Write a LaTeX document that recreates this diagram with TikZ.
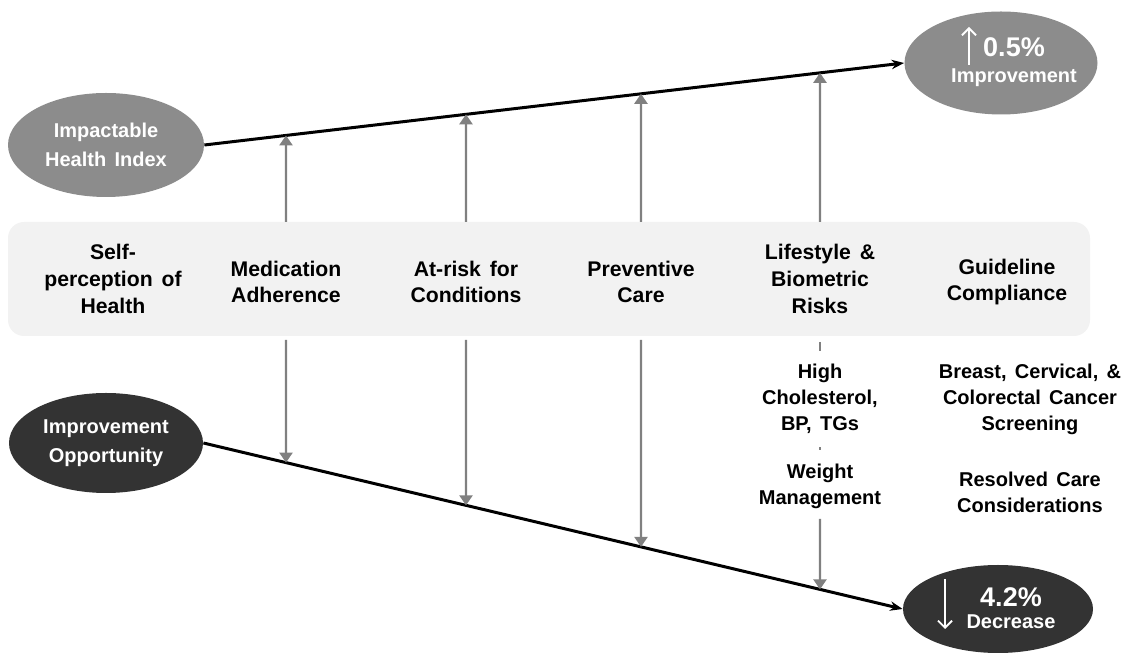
\documentclass[tikz,border=0pt]{standalone}
\usepackage{fontspec}
\setmainfont{Liberation Sans}[WordSpace=1.5]
\usetikzlibrary{positioning,arrows.meta,calc,shapes.geometric}

\definecolor{ovlight}{HTML}{8C8C8C}
\definecolor{ovdark}{HTML}{333333}
\definecolor{bandgray}{HTML}{F2F2F2}
\definecolor{arrgray}{HTML}{808080}

\tikzset{
  >={Stealth[length=2.2mm]},
  band/.style={fill=bandgray,rounded corners=8pt},
  ovl/.style={ellipse,fill=ovlight,text=white,align=center,inner sep=0pt,
    font=\bfseries\fontsize{10}{14.5}\selectfont},
  ovd/.style={ovl,fill=ovdark},
  pcttxt/.style={text=white,align=center,inner sep=0pt,
    font=\bfseries\fontsize{10}{12}\selectfont},
  col/.style={align=center,inner sep=1pt,
    font=\bfseries\fontsize{10.6}{13.3}\selectfont},
  sub/.style={align=center,inner sep=1pt,
    font=\bfseries\fontsize{10}{13}\selectfont},
  trend/.style={->,line width=1.5pt,black},
  gup/.style={-{Triangle[length=5pt,width=6.5pt]},line width=1.2pt,arrgray},
  gline/.style={line width=1.2pt,arrgray},
  dirarr/.style={-{Straight Barb[length=3.5pt,width=7pt]},line width=0.9pt,white},
}

\begin{document}
\begin{tikzpicture}[x=0.5pt,y=-0.5pt]
  \useasboundingbox (0,0) rectangle (1131,656);

  % the grey band with the six measures
  \path[band] (8,222) rectangle (1090,336);
  \coordinate (btop) at (0,222);
  \coordinate (bbot) at (0,336);

  \node[col] (c1) at (113,279) {Self-\\perception of\\Health};
  \node[col] (c2) at (286,282) {Medication\\Adherence};
  \node[col] (c3) at (466,282) {At-risk for\\Conditions};
  \node[col] (c4) at (641,282) {Preventive\\Care};
  \node[col] (c5) at (820,279) {Lifestyle \&\\Biometric\\Risks};
  \node[col] (c6) at (1007,282) {Guideline\\Compliance};

  % ovals
  \node[ovl,minimum width=98pt,minimum height=52pt] (hi) at (106,145) {Impactable\\Health Index};
  \node[ovl,minimum width=96.5pt,minimum height=51.5pt] (up) at (1001,63) {};
  \node[ovd,minimum width=97pt,minimum height=50pt] (io) at (106,443) {Improvement\\Opportunity};
  \node[ovd,minimum width=95pt,minimum height=44pt] (dn) at (998,609) {};

  \node[pcttxt] (uptxt) at (1014,62)
    {\fontsize{13.5}{15}\selectfont 0.5\%\\[1pt]Improvement};
  \node[pcttxt] (dntxt) at (1011,608)
    {\fontsize{13.5}{15}\selectfont 4.2\%\\[-1pt]Decrease};
  \draw[dirarr] ([shift={(-32,2)}]up.center) -- ++(0,-38);
  \draw[dirarr] ([shift={(-53,-30)}]dn.center) -- ++(0,50);

  % trend lines
  \draw[trend] (hi.east) -- (up.west);
  \draw[trend] (io.east) -- (dn.west);

  % details under the band
  \node[sub] (hc) at (820,399) {High\\Cholesterol,\\BP, TGs};
  \node[sub] (wm) at (820,486) {Weight\\Management};
  \node[sub] (bc) at (1030,399) {Breast, Cervical, \&\\Colorectal Cancer\\Screening};
  \node[sub] (rc) at (1030,492) {Resolved Care\\Considerations};

  \draw[gline] ($(c5 |- bbot)+(0,6)$) -- ++(0,9);
  \draw[gline] ($(hc.south)!0.5!(wm.north)$) ++(0,-1.5) -- ++(0,3);

  % arrows up to the index line, down to the opportunity line
  \foreach \c in {c2,c3,c4,c5}
    \draw[gup] (\c |- btop) -- (intersection of hi.east--up.west and \c.north--\c.south);
  \foreach \c in {c2,c3,c4}
    \draw[gup] ([yshift=-2pt]\c |- bbot) -- (intersection of io.east--dn.west and \c.north--\c.south);
  \draw[gup] ([yshift=-4pt]wm.south) -- (intersection of io.east--dn.west and wm.north--wm.south);
\end{tikzpicture}
\end{document}
